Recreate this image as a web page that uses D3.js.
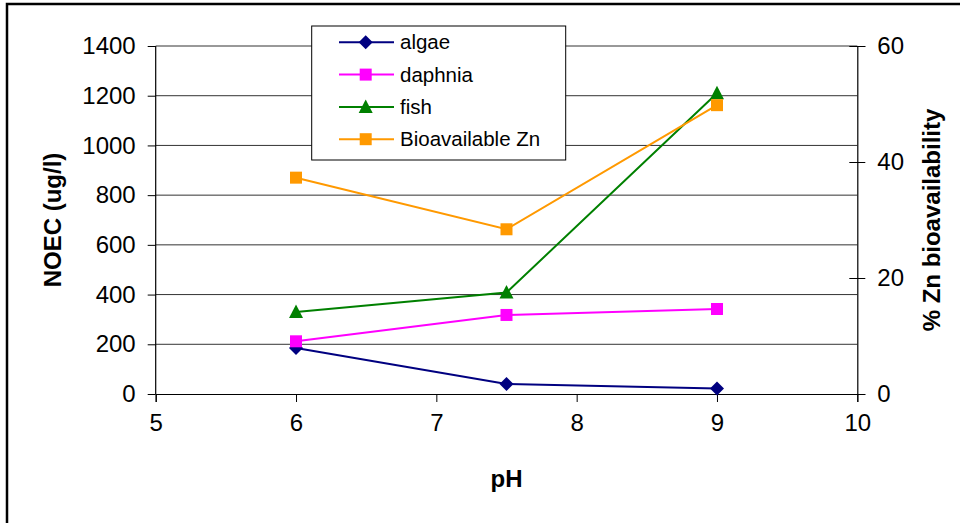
<!DOCTYPE html>
<html><head><meta charset="utf-8">
<script src="https://cdn.jsdelivr.net/npm/d3@7"></script>
<style>body{margin:0;background:#fff;} svg{display:block;font-family:"Liberation Sans",Arial,sans-serif;}</style>
</head><body>
<svg id="c" width="960" height="523"></svg>
<script>
const pH = [6, 7.5, 9];
const algae = [185, 40, 22];
const daphnia = [212, 318, 342];
const fish = [330, 408, 1210];
const bioZn = [37.3, 28.4, 49.8];
const xTicks = [5, 6, 7, 8, 9, 10];
const yTicks = [0, 200, 400, 600, 800, 1000, 1200, 1400];
const y2Ticks = [0, 20, 40, 60];

const svg = d3.select("#c");
const L = 155.7, R = 857.3, T = 46, B = 394;
const x = d3.scaleLinear().domain([5, 10]).range([L, R]);
const y = d3.scaleLinear().domain([0, 1400]).range([B, T]);
const y2 = d3.scaleLinear().domain([0, 60]).range([B, T]);

// outer frame
svg.append("rect").attr("x", 7).attr("y", 4).attr("width", 970).attr("height", 540)
  .attr("fill", "none").attr("stroke", "#000").attr("stroke-width", 2.5);

// gridlines
svg.append("g").selectAll("line").data(yTicks.filter(d => d > 0)).join("line")
  .attr("x1", L).attr("x2", R).attr("y1", d => y(d)).attr("y2", d => y(d))
  .attr("stroke", "#333").attr("stroke-width", 1);

// axes
const fmt = d3.format("d");
const ax = svg.append("g").attr("transform", `translate(0,${B})`)
  .call(d3.axisBottom(x).tickValues(xTicks).tickSize(8).tickPadding(12).tickFormat(fmt));
const ay = svg.append("g").attr("transform", `translate(${L},0)`)
  .call(d3.axisLeft(y).tickValues(yTicks).tickSize(8).tickPadding(12).tickFormat(fmt));
const ay2 = svg.append("g").attr("transform", `translate(${R},0)`)
  .call(d3.axisRight(y2).tickValues(y2Ticks).tickSize(8).tickPadding(12).tickFormat(fmt));
ay2.selectAll(".tick line").attr("x1", -8);
[ax, ay, ay2].forEach(g => {
  g.select(".domain").attr("stroke", "#000").attr("stroke-width", 1.2);
  g.selectAll(".tick line").attr("stroke", "#000").attr("stroke-width", 1);
  g.selectAll("text").attr("font-size", 24).attr("fill", "#000")
    .attr("font-family", "'Liberation Sans', Arial, sans-serif");
});
ax.selectAll("text").attr("dy", "0.71em");
ay.select(".domain").attr("d", `M-0,${B}V${T}`);

// axis titles
svg.append("text").attr("x", (L + R) / 2).attr("y", 487).attr("text-anchor", "middle")
  .attr("font-size", 24).attr("font-weight", "bold").text("pH");
svg.append("text").attr("transform", `translate(61,${(T + B) / 2}) rotate(-90)`)
  .attr("text-anchor", "middle").attr("font-size", 24).attr("font-weight", "bold").text("NOEC (ug/l)");
svg.append("text").attr("transform", `translate(940,${(T + B) / 2}) rotate(-90)`)
  .attr("text-anchor", "middle").attr("font-size", 24).attr("font-weight", "bold").text("% Zn bioavailability");

// series
const series = [
  { name: "algae", vals: algae, color: "#000080", shape: "diamond", sc: y },
  { name: "daphnia", vals: daphnia, color: "#FF00FF", shape: "square", sc: y },
  { name: "fish", vals: fish, color: "#008000", shape: "triangle", sc: y },
  { name: "Bioavailable Zn", vals: bioZn, color: "#FF9900", shape: "square", sc: y2 }
];
const shapePath = {
  diamond: "M0,-7L7,0L0,7L-7,0Z",
  square: "M-6,-6H6V6H-6Z",
  triangle: "M0,-7.5L7,6L-7,6Z"
};
function marker(g, s, cx, cy) {
  g.append("path").attr("d", shapePath[s.shape])
    .attr("transform", `translate(${cx},${cy})`).attr("fill", s.color);
}
series.forEach(s => {
  const g = svg.append("g");
  const line = d3.line().x((d, i) => x(pH[i])).y(d => s.sc(d));
  g.append("path").attr("d", line(s.vals)).attr("fill", "none")
    .attr("stroke", s.color).attr("stroke-width", 2);
  s.vals.forEach((v, i) => marker(g, s, x(pH[i]), s.sc(v)));
});

// legend
const lg = svg.append("g");
lg.append("rect").attr("x", 311.7).attr("y", 26).attr("width", 254).attr("height", 134)
  .attr("fill", "#fff").attr("stroke", "#000").attr("stroke-width", 1);
series.forEach((s, i) => {
  const cy = 42.3 + i * 32.3;
  lg.append("line").attr("x1", 339).attr("x2", 394).attr("y1", cy).attr("y2", cy)
    .attr("stroke", s.color).attr("stroke-width", 2);
  marker(lg, s, 365.7, cy);
  lg.append("text").attr("x", 400).attr("y", cy).attr("dy", "0.35em")
    .attr("font-size", 20.5).text(s.name);
});
</script>
</body></html>
